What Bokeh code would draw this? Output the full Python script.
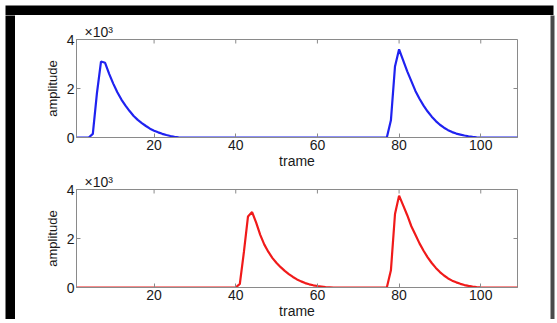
import math
from bokeh.plotting import figure
from bokeh.models import Range1d, FixedTicker, ColumnDataSource, Spacer
from bokeh.layouts import column, row
from bokeh.embed import file_html
from bokeh.resources import INLINE

# ---- data -------------------------------------------------------------
frames = list(range(1, 110))

amp_top = [
    0, 0, 0, 0, 150, 1800, 3100, 3050, 2600, 2200,
    1850, 1550, 1300, 1080, 880, 720, 590, 470, 360, 280,
    210, 150, 100, 60, 30, 10, 0, 0, 0, 0,
    0, 0, 0, 0, 0, 0, 0, 0, 0, 0,
    0, 0, 0, 0, 0, 0, 0, 0, 0, 0,
    0, 0, 0, 0, 0, 0, 0, 0, 0, 0,
    0, 0, 0, 0, 0, 0, 0, 0, 0, 0,
    0, 0, 0, 0, 0, 0, 0, 700, 2900, 3600,
    3150, 2700, 2300, 1900, 1580, 1300, 1060, 850, 670, 520,
    400, 300, 220, 160, 120, 80, 50, 25, 10, 0,
    0, 0, 0, 0, 0, 0, 0, 0, 0,
]

amp_bottom = [
    0, 0, 0, 0, 0, 0, 0, 0, 0, 0,
    0, 0, 0, 0, 0, 0, 0, 0, 0, 0,
    0, 0, 0, 0, 0, 0, 0, 0, 0, 0,
    0, 0, 0, 0, 0, 0, 0, 0, 0, 0,
    150, 1450, 2900, 3080, 2650, 2150, 1750, 1450, 1200, 1000,
    830, 680, 550, 430, 330, 250, 180, 130, 90, 60,
    40, 20, 10, 0, 0, 0, 0, 0, 0, 0,
    0, 0, 0, 0, 0, 0, 0, 700, 3000, 3750,
    3350, 2950, 2500, 2150, 1800, 1500, 1230, 1000, 800, 630,
    490, 370, 280, 210, 150, 100, 65, 40, 20, 5,
    0, 0, 0, 0, 0, 0, 0, 0, 0,
]

x_ticks = [20, 40, 60, 80, 100]
y_ticks = [0, 2000, 4000]
y_tick_labels = ["0", "2", "4"]
x_label = "trame"
y_label = "amplitude"
scale_text = "\u00d710\u00b3"

X_MIN, X_MAX = 1, 109
Y_MIN, Y_MAX = 0, 4000

FONT = "Liberation Sans"
BOX = "#8a8a8a"
TXT = "#1a1a1a"


def make_panel(values, color, top, bottom):
    src = ColumnDataSource(dict(frame=frames, amp=values))
    p = figure(frame_width=441, frame_height=98,
               x_range=Range1d(X_MIN, X_MAX), y_range=Range1d(Y_MIN, Y_MAX),
               output_backend="svg", toolbar_location=None,
               min_border_left=61, min_border_right=33,
               min_border_top=top, min_border_bottom=bottom,
               background_fill_color="white", border_fill_color="white")
    p.grid.visible = False
    p.outline_line_color = BOX
    p.outline_line_width = 1
    p.line("frame", "amp", source=src, line_color=color, line_width=2.2)

    # inward ticks on the top and right sides of the box
    p.scatter(x=x_ticks, y=[Y_MAX] * len(x_ticks), marker="dash", size=8,
              angle=math.pi / 2, line_color=BOX, line_width=1)
    p.scatter(x=[X_MAX] * len(y_ticks), y=y_ticks, marker="dash", size=8,
              line_color=BOX, line_width=1)

    p.xaxis.ticker = FixedTicker(ticks=x_ticks)
    p.yaxis.ticker = FixedTicker(ticks=y_ticks)
    p.yaxis.major_label_overrides = {t: l for t, l in zip(y_ticks, y_tick_labels)}

    for ax in p.axis:
        ax.axis_line_color = BOX
        ax.major_tick_line_color = BOX
        ax.major_tick_in = 4
        ax.major_tick_out = 0
        ax.minor_tick_line_color = None
        ax.major_label_text_font = FONT
        ax.major_label_text_font_size = "14px"
        ax.major_label_text_color = TXT
        ax.major_label_standoff = 2
        ax.axis_label_text_font = FONT
        ax.axis_label_text_font_style = "normal"
        ax.axis_label_text_color = TXT

    p.xaxis.axis_label = x_label
    p.xaxis.axis_label_text_font_size = "14px"
    p.xaxis.axis_label_standoff = 0
    p.yaxis.axis_label = y_label
    p.yaxis.axis_label_text_font_size = "13px"
    p.yaxis.axis_label_standoff = 4

    p.title.text = scale_text
    p.title.align = "left"
    p.title.offset = 8
    p.title.standoff = 0
    p.title.text_font = FONT
    p.title.text_font_size = "14px"
    p.title.text_font_style = "normal"
    p.title.text_color = TXT
    return p


def bar(w, h, color, left=0, right=0, top=0, bottom=0):
    # a plain canvas whose frame is one piece of the picture frame
    b = figure(width=w, height=h, output_backend="svg", toolbar_location=None,
               x_axis_type=None, y_axis_type=None,
               min_border_left=left, min_border_right=right,
               min_border_top=top, min_border_bottom=bottom,
               border_fill_color="white", background_fill_color=color,
               outline_line_color=None)
    b.grid.visible = False
    return b


p1 = make_panel(amp_top, "#1f22f0", 24, 33)
p2 = make_panel(amp_bottom, "#f01a1a", 12, 35)

inner = column(p1, p2, spacing=0)
layout = column(
    Spacer(width=557, height=0),
    bar(557, 15, "#000000", left=5, right=4, top=5),
    row(bar(15, 304, "#000000", left=5),
        inner,
        bar(7, 304, "#4a4a4a", right=3),
        spacing=0),
    bar(557, 4, "#4a4a4a", left=5, right=3, bottom=1),
    spacing=0,
)

open("out.html", "w").write(file_html(layout, INLINE))
